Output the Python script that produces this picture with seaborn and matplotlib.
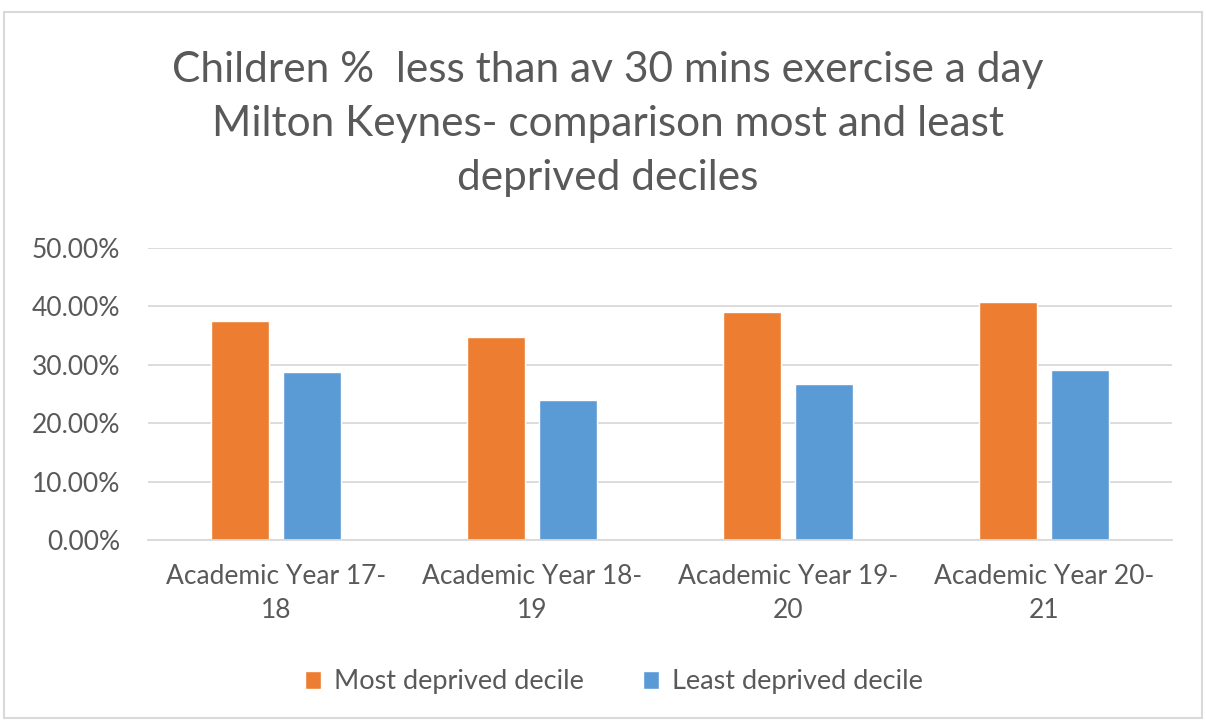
import matplotlib
matplotlib.use("Agg")
import matplotlib.pyplot as plt
import seaborn as sns
import pandas as pd
from matplotlib.patches import Rectangle
from matplotlib.ticker import PercentFormatter

categories = ["Academic Year 17-\n18", "Academic Year 18-\n19",
              "Academic Year 19-\n20", "Academic Year 20-\n21"]
most_deprived = [37.5, 34.7, 39.1, 40.8]
least_deprived = [28.7, 24.0, 26.7, 29.1]
series_names = ["Most deprived decile", "Least deprived decile"]
colors = ["#ED7D31", "#5B9BD5"]
title = "Children %  less than av 30 mins exercise a day\nMilton Keynes- comparison most and least\ndeprived deciles"

df = pd.DataFrame({
    "cat": categories * 2,
    "series": [series_names[0]] * 4 + [series_names[1]] * 4,
    "value": most_deprived + least_deprived,
})

sns.set_theme(style="white")
plt.rcParams["font.family"] = ["Lato", "DejaVu Sans"]
text_color = "#595959"

fig = plt.figure(figsize=(12.06, 7.2), dpi=100)
ax = fig.add_axes([148 / 1206, 1 - 540 / 720, (1172 - 148) / 1206, (540 - 248) / 720])

sns.barplot(data=df, x="cat", y="value", hue="series", palette=colors,
            width=0.56, gap=0.2, ax=ax, legend=True, saturation=1)

ax.set_ylim(0, 50)
ax.set_yticks([0, 10, 20, 30, 40, 50])
ax.yaxis.set_major_formatter(PercentFormatter(decimals=2))
ax.grid(axis="y", color="#D9D9D9", linewidth=1.3)
ax.set_axisbelow(True)
for s in ["top", "right", "left"]:
    ax.spines[s].set_visible(False)
ax.spines["bottom"].set_color("#D9D9D9")
ax.spines["bottom"].set_linewidth(1.3)
ax.set_xlabel("")
ax.set_ylabel("")
ax.tick_params(axis="both", length=0, labelsize=19, colors=text_color)
ax.tick_params(axis="x", pad=17)
ax.tick_params(axis="y", pad=20)
for lbl in ax.get_xticklabels():
    lbl.set_linespacing(1.45)

handles, labels = ax.get_legend_handles_labels()
ax.legend_.remove()
fig.legend(handles, labels, loc="center", bbox_to_anchor=(0.509, 1 - 682 / 720),
           ncol=2, frameon=False, fontsize=19.5, handlelength=0.6, handleheight=0.6,
           columnspacing=2.2, labelcolor=text_color, handletextpad=0.45)

fig.text(608 / 1206, 1 - 124 / 720, title, ha="center", va="center", fontsize=30.5,
         color=text_color, linespacing=1.52)

fig.patches.append(Rectangle((4 / 1206, 2 / 720), 1198 / 1206, 706 / 720,
                             transform=fig.transFigure, fill=False,
                             edgecolor="#D9D9D9", linewidth=1.5))

fig.savefig("out.png", dpi=100)
